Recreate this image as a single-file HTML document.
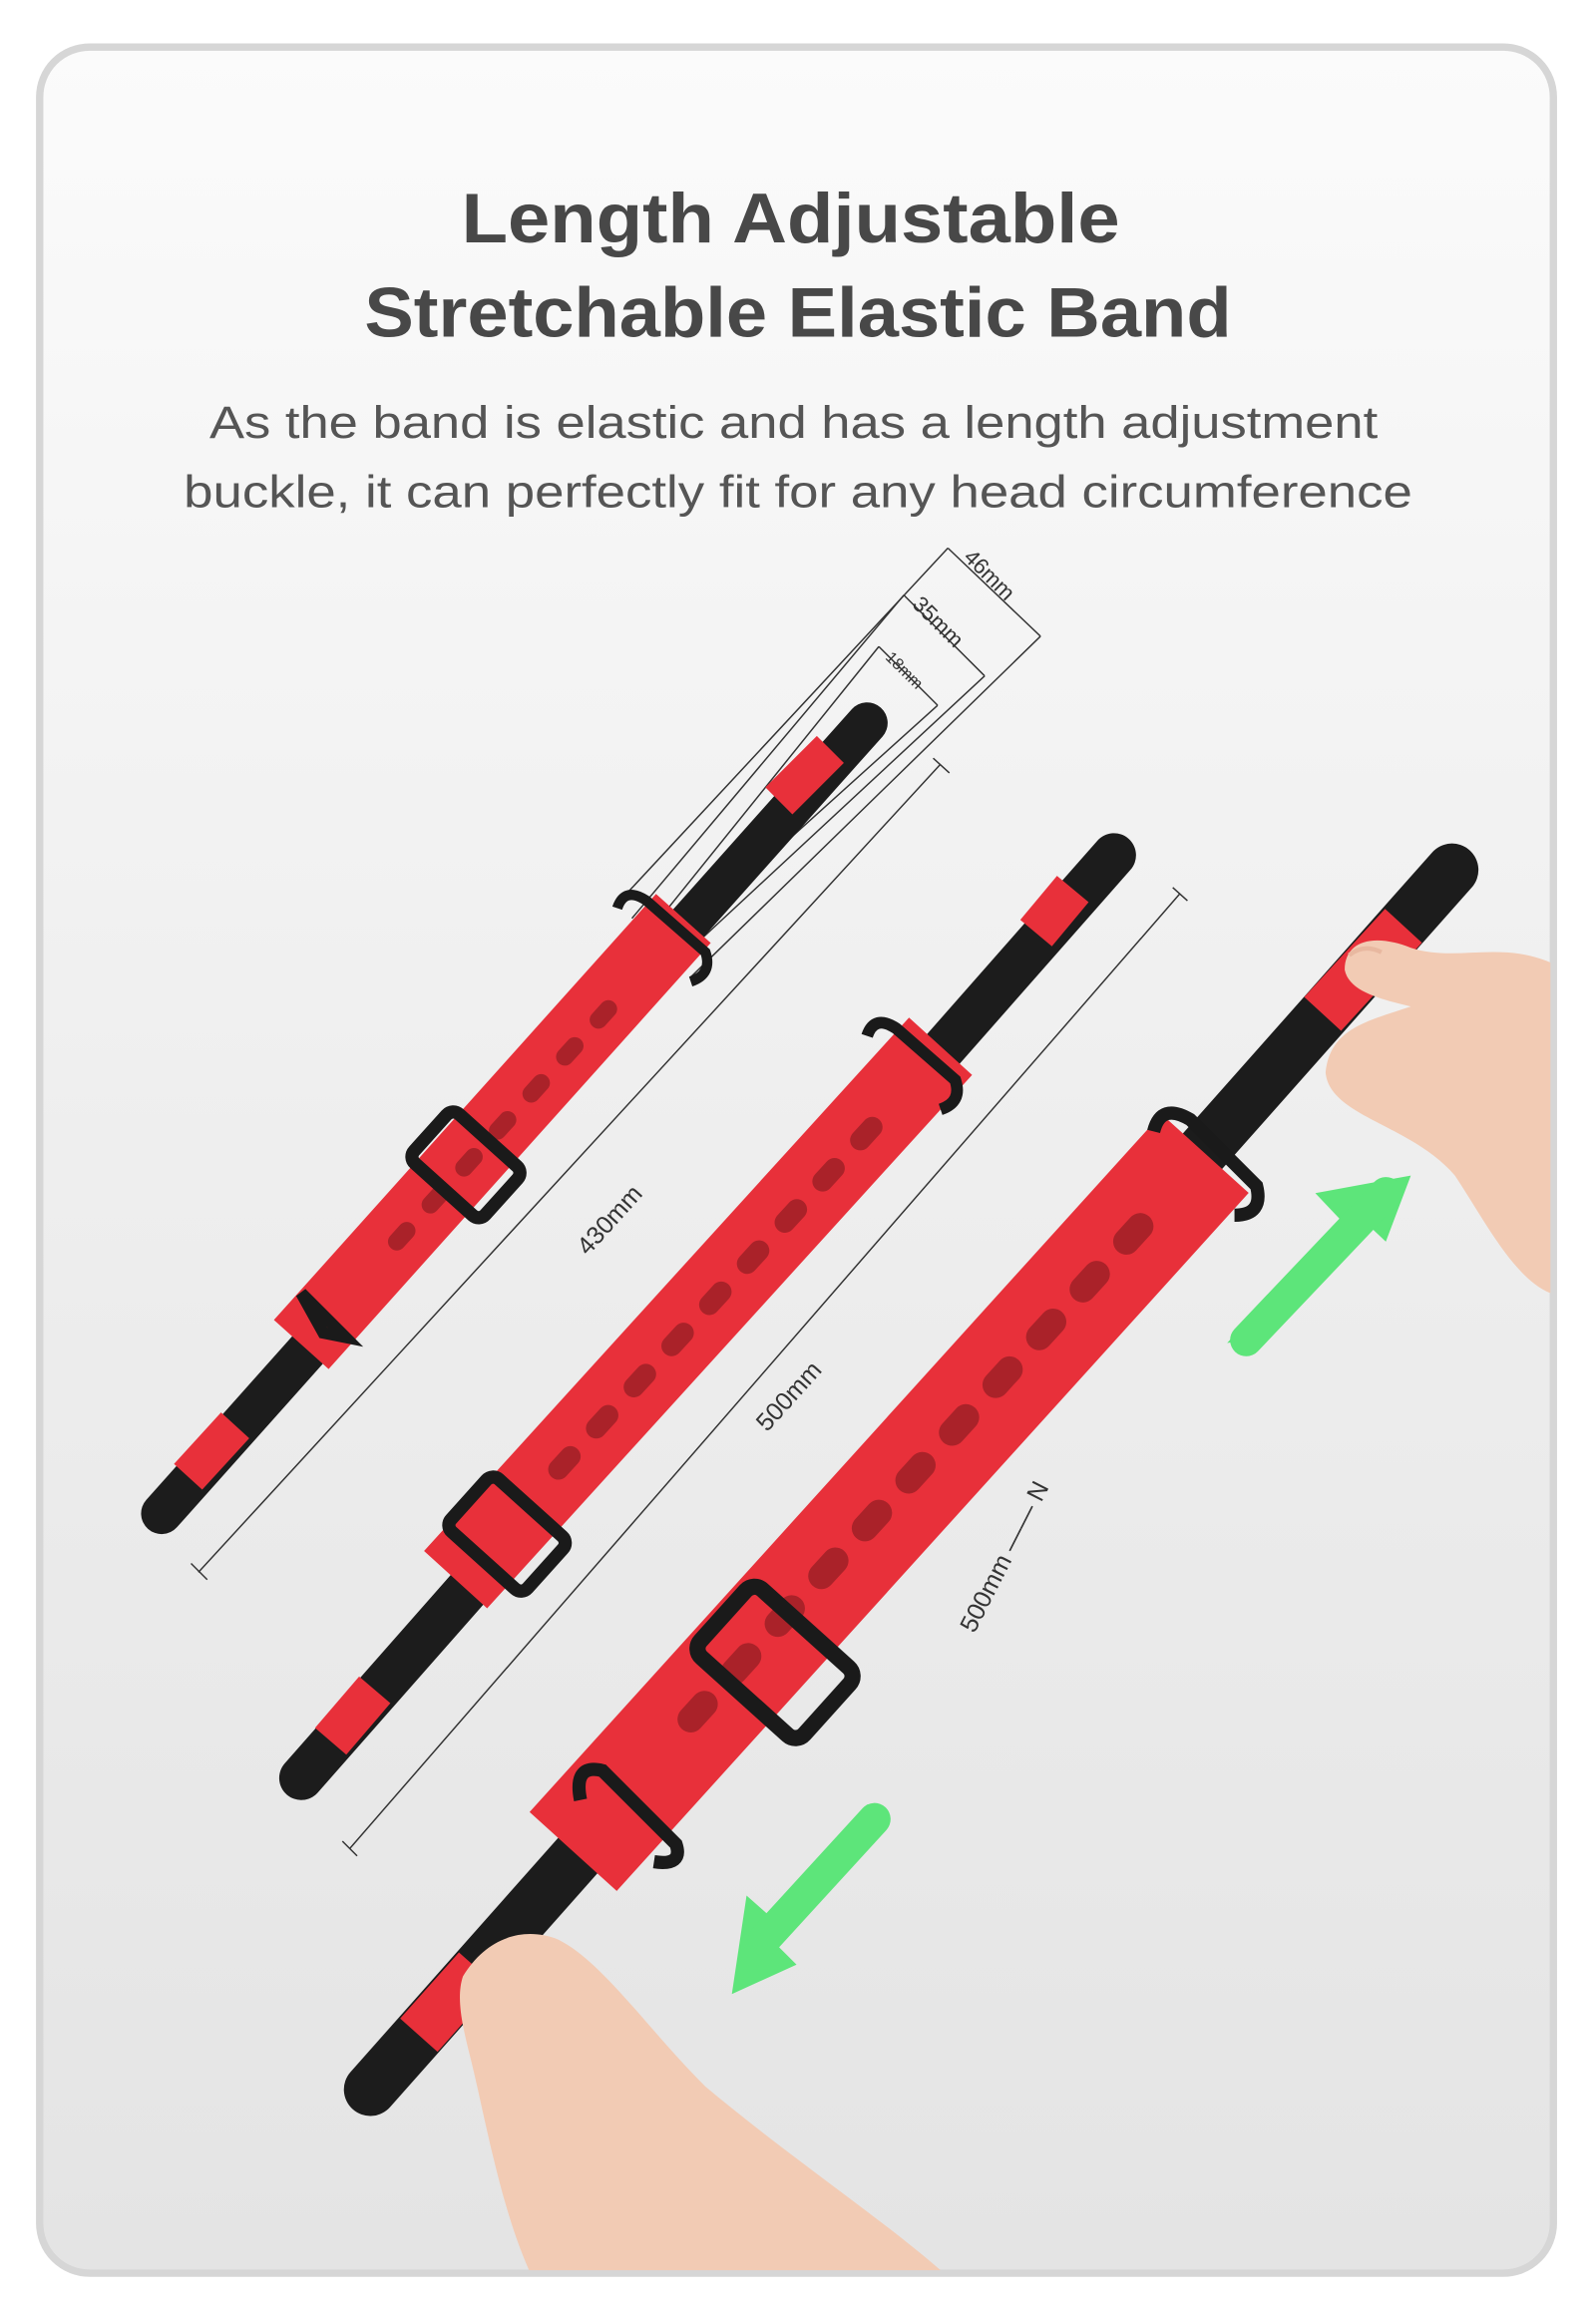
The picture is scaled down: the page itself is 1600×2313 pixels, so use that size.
<!DOCTYPE html>
<html><head><meta charset="utf-8"><style>
html,body{margin:0;padding:0;background:#fff}
svg{display:block}
</style></head><body>
<svg width="1600" height="2313" viewBox="0 0 1086 1570" preserveAspectRatio="none" xmlns="http://www.w3.org/2000/svg">
<defs>
<linearGradient id="bg" x1="0" y1="0" x2="0" y2="1">
<stop offset="0" stop-color="#fbfbfb"/><stop offset="0.5" stop-color="#eeeeee"/><stop offset="1" stop-color="#e4e4e4"/>
</linearGradient>
</defs>
<rect x="0" y="0" width="1086" height="1570" fill="#fff"/>
<rect x="27" y="32" width="1030" height="1515" rx="34" fill="url(#bg)" stroke="#d6d6d6" stroke-width="5"/>
<g font-family="Liberation Sans, sans-serif" text-anchor="middle">
<text x="538" y="165" font-size="48" font-weight="bold" fill="#484848" textLength="448" lengthAdjust="spacingAndGlyphs">Length Adjustable</text>
<text x="543" y="229" font-size="48" font-weight="bold" fill="#484848" textLength="590" lengthAdjust="spacingAndGlyphs">Stretchable Elastic Band</text>
<text x="540" y="298" font-size="31" fill="#555" textLength="795" lengthAdjust="spacingAndGlyphs">As the band is elastic and has a length adjustment</text>
<text x="543" y="345" font-size="31" fill="#555" textLength="836" lengthAdjust="spacingAndGlyphs">buckle, it can perfectly fit for any head circumference</text>
</g>
<!-- dimension lines -->
<g stroke="#333" stroke-width="1" fill="none">
<line x1="135" y1="1070" x2="640" y2="520"/><line x1="130" y1="1064" x2="141" y2="1075"/><line x1="635" y1="516" x2="646" y2="526"/>
<line x1="238" y1="1258" x2="803" y2="608"/><line x1="233" y1="1253" x2="243" y2="1263"/><line x1="798" y1="604" x2="808" y2="613"/>
<line x1="420" y1="615" x2="645" y2="373"/><line x1="470" y1="665" x2="708" y2="433"/>
<line x1="430" y1="625" x2="615" y2="405"/><line x1="460" y1="655" x2="670" y2="460"/>
<line x1="445" y1="630" x2="598" y2="440"/><line x1="455" y1="645" x2="638" y2="480"/>
<line x1="645" y1="373" x2="708" y2="433"/><line x1="615" y1="405" x2="670" y2="460"/><line x1="598" y1="440" x2="638" y2="480"/>
</g>
<g font-family="Liberation Sans, sans-serif" fill="#333">
<text x="0" y="0" font-size="17" transform="translate(400,855) rotate(-48)">430mm</text>
<text x="0" y="0" font-size="17" transform="translate(522,975) rotate(-48)">500mm</text>
<text x="0" y="0" font-size="17" transform="translate(663,1112) rotate(-63)">500mm —— N</text>
<text x="0" y="0" font-size="15" transform="translate(655,380) rotate(45)">46mm</text>
<text x="0" y="0" font-size="15" transform="translate(620,412) rotate(45)">35mm</text>
<text x="0" y="0" font-size="11" transform="translate(602,448) rotate(45)">18mm</text>
</g>
<!-- strap 1 -->
<g stroke-linecap="round">
<line x1="110" y1="1030" x2="590" y2="492" stroke="#1c1c1c" stroke-width="28"/>
<line x1="128" y1="1005" x2="160" y2="970" stroke="#e8303a" stroke-width="26" stroke-linecap="butt"/>
<line x1="205" y1="915" x2="465" y2="625" stroke="#e8303a" stroke-width="50" stroke-linecap="butt"/>
<line x1="530" y1="545" x2="565" y2="510" stroke="#e8303a" stroke-width="26" stroke-linecap="butt"/>
<line x1="270" y1="845" x2="420" y2="680" stroke="#3a0a0c" stroke-width="12" stroke-dasharray="10 24" opacity="0.35"/>
</g>
<rect x="285" y="770" width="65" height="45" rx="6" fill="none" stroke="#1a1a1a" stroke-width="9" transform="rotate(42 317 792)"/>
<path d="M205 880 l30 30 l-15 -3 z" stroke="#1a1a1a" stroke-width="8" fill="none"/>
<path d="M420 618 q5 -15 20 -5 l40 35 q5 15 -10 20" stroke="#1a1a1a" stroke-width="7" fill="none"/>
<!-- strap 2 -->
<g stroke-linecap="round">
<line x1="205" y1="1210" x2="758" y2="582" stroke="#1c1c1c" stroke-width="30"/>
<line x1="225" y1="1185" x2="255" y2="1150" stroke="#e8303a" stroke-width="28" stroke-linecap="butt"/>
<line x1="310" y1="1075" x2="640" y2="712" stroke="#e8303a" stroke-width="58" stroke-linecap="butt"/>
<line x1="705" y1="635" x2="730" y2="605" stroke="#e8303a" stroke-width="28" stroke-linecap="butt"/>
<line x1="380" y1="1000" x2="600" y2="760" stroke="#3a0a0c" stroke-width="14" stroke-dasharray="12 26" opacity="0.35"/>
</g>
<rect x="310" y="1020" width="70" height="48" rx="6" fill="none" stroke="#1a1a1a" stroke-width="9" transform="rotate(42 345 1044)"/>
<path d="M590 705 q5 -15 20 -5 l40 35 q5 15 -10 20" stroke="#1a1a1a" stroke-width="8" fill="none"/>
<!-- strap 3 -->
<g stroke-linecap="round">
<line x1="252" y1="1422" x2="988" y2="592" stroke="#1c1c1c" stroke-width="36"/>
<line x1="285" y1="1385" x2="325" y2="1340" stroke="#e8303a" stroke-width="34" stroke-linecap="butt"/>
<line x1="390" y1="1260" x2="820" y2="785" stroke="#e8303a" stroke-width="80" stroke-linecap="butt"/>
<line x1="900" y1="690" x2="955" y2="630" stroke="#e8303a" stroke-width="34" stroke-linecap="butt"/>
<line x1="470" y1="1170" x2="780" y2="830" stroke="#3a0a0c" stroke-width="18" stroke-dasharray="14 30" opacity="0.35"/>
</g>
<rect x="480" y="1100" width="95" height="62" rx="8" fill="none" stroke="#1a1a1a" stroke-width="11" transform="rotate(42 527 1131)"/>
<path d="M395 1225 q-5 -25 15 -20 l50 50 q5 15 -15 12" stroke="#1a1a1a" stroke-width="9" fill="none"/>
<path d="M785 770 q5 -20 25 -8 l45 45 q5 20 -15 20" stroke="#1a1a1a" stroke-width="9" fill="none"/>
<!-- green arrows -->
<g fill="#5de57a">
<polygon points="848,912 925,828 943,845 960,800 895,812 912,830 835,914"/>
<path d="M600 1238 L525 1320 L542 1337 L498 1357 L508 1290 L525 1305 L590 1228 Z"/>
</g>
<path d="M848 912 l95 -100" stroke="#5de57a" stroke-width="22" stroke-linecap="round"/>
<path d="M595 1238 l-75 82" stroke="#5de57a" stroke-width="22" stroke-linecap="round"/>
<!-- hands -->
<g fill="#f2cbb4">
<path d="M1055 655 C1020 640 990 655 960 645 C935 635 915 640 915 660 C918 675 940 680 960 685 C930 695 905 700 902 730 C905 760 960 765 990 800 C1010 830 1030 870 1055 880 Z"/>
<path d="M315 1345 C330 1320 355 1310 380 1320 C410 1335 440 1380 480 1420 C540 1470 600 1510 640 1545 L360 1545 C340 1500 330 1440 320 1400 C315 1380 310 1360 315 1345 Z"/>
</g>
<path d="M918 650 q10 -8 22 -2" stroke="#e8b8a0" stroke-width="3" fill="none"/>
</svg>
</body></html>
